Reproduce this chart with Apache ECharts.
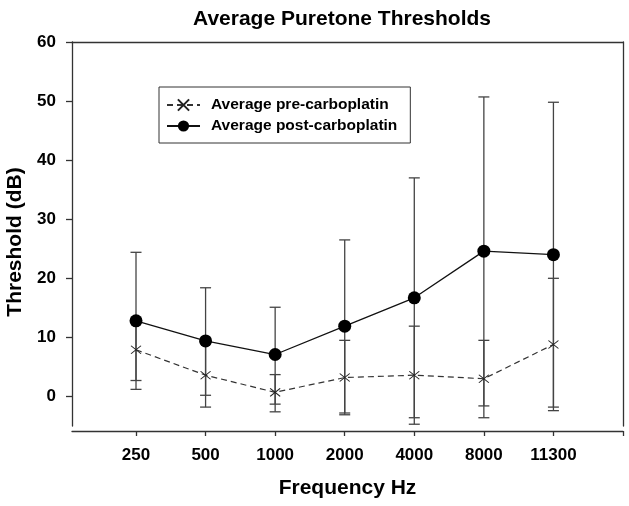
<!DOCTYPE html>
<html>
<head>
<meta charset="utf-8">
<script src="https://cdn.jsdelivr.net/npm/echarts@6/dist/echarts.min.js"></script>
<style>
  html, body { margin: 0; padding: 0; background: #fff; }
  #chart { width: 629px; height: 506px; }
</style>
</head>
<body>
<div id="chart"></div>
<script>
// 频率
var freqs = ["250", "500", "1000", "2000", "4000", "8000", "11300"];
// pre-carboplatin: mean, upper, lower
var preMean = [7.9, 3.6, 0.7, 3.2, 3.6, 3.0, 8.8];
var preUpper = [13.2, 8.9, 3.7, 9.5, 11.9, 9.5, 20.0];
var preLower = [2.7, -1.8, -2.6, -3.1, -4.7, -3.6, -2.4];
// post-carboplatin
var postMean = [12.8, 9.4, 7.1, 11.9, 16.7, 24.6, 24.0];
var postUpper = [24.4, 18.4, 15.1, 26.5, 37.0, 50.7, 49.8];
var postLower = [1.2, 0.2, -1.3, -2.8, -3.6, -1.6, -1.8];
var yTicks = [0, 10, 20, 30, 40, 50, 60];

var FONT = "Liberation Sans";

function pts(arr) {
  return arr.map(function (v, i) { return [i + 1, v]; });
}
function bars(lo, hi) {
  return lo.map(function (v, i) { return [i + 1, v, hi[i]]; });
}

function renderBar(params, api) {
  var x = api.value(0);
  var lo = api.coord([x, api.value(1)]);
  var hi = api.coord([x, api.value(2)]);
  var w = 5.5;
  var st = { stroke: "#444", lineWidth: 1.3 };
  return {
    type: "group",
    children: [
      { type: "line", shape: { x1: lo[0], y1: lo[1], x2: hi[0], y2: hi[1] }, style: st },
      { type: "line", shape: { x1: lo[0] - w, y1: lo[1], x2: lo[0] + w, y2: lo[1] }, style: st },
      { type: "line", shape: { x1: hi[0] - w, y1: hi[1], x2: hi[0] + w, y2: hi[1] }, style: st },
    ],
  };
}

var myChart = echarts.init(document.getElementById("chart"));
var option = {
  animation: false,
  title: {
    text: "Average Puretone Thresholds",
    left: 337,
    textAlign: "center",
    top: 4,
    textStyle: { fontFamily: FONT, fontSize: 21, fontWeight: "bold", color: "#000" },
  },
  legend: {
    orient: "vertical",
    left: 159,
    top: 87,
    padding: [10, 13, 9, 7],
    itemGap: 5,
    itemWidth: 33,
    itemHeight: 14,
    borderColor: "#333",
    borderWidth: 1,
    data: ["Average pre-carboplatin", "Average post-carboplatin"],
    textStyle: { fontFamily: FONT, fontSize: 15.5, fontWeight: "bold", color: "#000", padding: [0, 0, 0, 6] },
  },
  grid: { left: 72, right: 6, top: 42, bottom: 80, outerBoundsMode: "none", containLabel: false },
  xAxis: [
    {
      type: "value",
      min: 0.08,
      max: 8,
      offset: 5,
      splitLine: { show: false },
      axisLine: { onZero: false, lineStyle: { color: "#333", width: 1.3 } },
      axisTick: { length: 5, customValues: [1, 2, 3, 4, 5, 6, 7, 8], lineStyle: { color: "#333", width: 1.3 } },
      axisLabel: {
        customValues: [1, 2, 3, 4, 5, 6, 7],
        formatter: function (v) { return freqs[Math.round(v) - 1] || ""; },
        margin: 16,
        fontFamily: FONT,
        fontSize: 17,
        fontWeight: "bold",
        color: "#000",
      },
      name: "Frequency Hz",
      nameLocation: "middle",
      nameGap: 47,
      nameTextStyle: { fontFamily: FONT, fontSize: 21, fontWeight: "bold", color: "#000" },
    },
    {
      type: "value",
      min: 0.08,
      max: 8,
      position: "top",
      splitLine: { show: false },
      axisLine: { onZero: false, lineStyle: { color: "#333", width: 1.3 } },
      axisTick: { show: false },
      axisLabel: { show: false },
    },
  ],
  yAxis: [
    {
      type: "value",
      min: -5,
      max: 60,
      splitLine: { show: false },
      axisLine: { show: true, onZero: false, lineStyle: { color: "#333", width: 1.3 } },
      axisTick: { show: true, length: 6, customValues: yTicks, lineStyle: { color: "#333", width: 1.3 } },
      axisLabel: {
        customValues: yTicks,
        margin: 16,
        fontFamily: FONT,
        fontSize: 17,
        fontWeight: "bold",
        color: "#000",
      },
      name: "Threshold (dB)",
      nameLocation: "middle",
      nameGap: 43,
      nameTextStyle: { fontFamily: FONT, fontSize: 21, fontWeight: "bold", color: "#000", padding: [0, 16, 0, 0] },
    },
    {
      type: "value",
      min: -5,
      max: 60,
      position: "right",
      splitLine: { show: false },
      axisLine: { show: true, onZero: false, lineStyle: { color: "#333", width: 1.3 } },
      axisTick: { show: false },
      axisLabel: { show: false },
    },
  ],
  series: [
    {
      type: "custom",
      renderItem: renderBar,
      data: bars(preLower, preUpper),
      z: 1,
    },
    {
      type: "custom",
      renderItem: renderBar,
      data: bars(postLower, postUpper),
      z: 1,
    },
    {
      name: "Average pre-carboplatin",
      type: "line",
      data: pts(preMean),
      symbol: "path://M0,0L10,8M10,0L0,8",
      symbolSize: [10, 8],
      lineStyle: { color: "#333", width: 1.2, type: [6, 4] },
      itemStyle: { color: "#fff", borderColor: "#222", borderWidth: 1 },
      z: 3,
    },
    {
      name: "Average post-carboplatin",
      type: "line",
      data: pts(postMean),
      symbol: "circle",
      symbolSize: 13,
      lineStyle: { color: "#111", width: 1.3 },
      itemStyle: { color: "#000" },
      z: 4,
    },
  ],
};
myChart.setOption(option);
</script>
</body>
</html>
